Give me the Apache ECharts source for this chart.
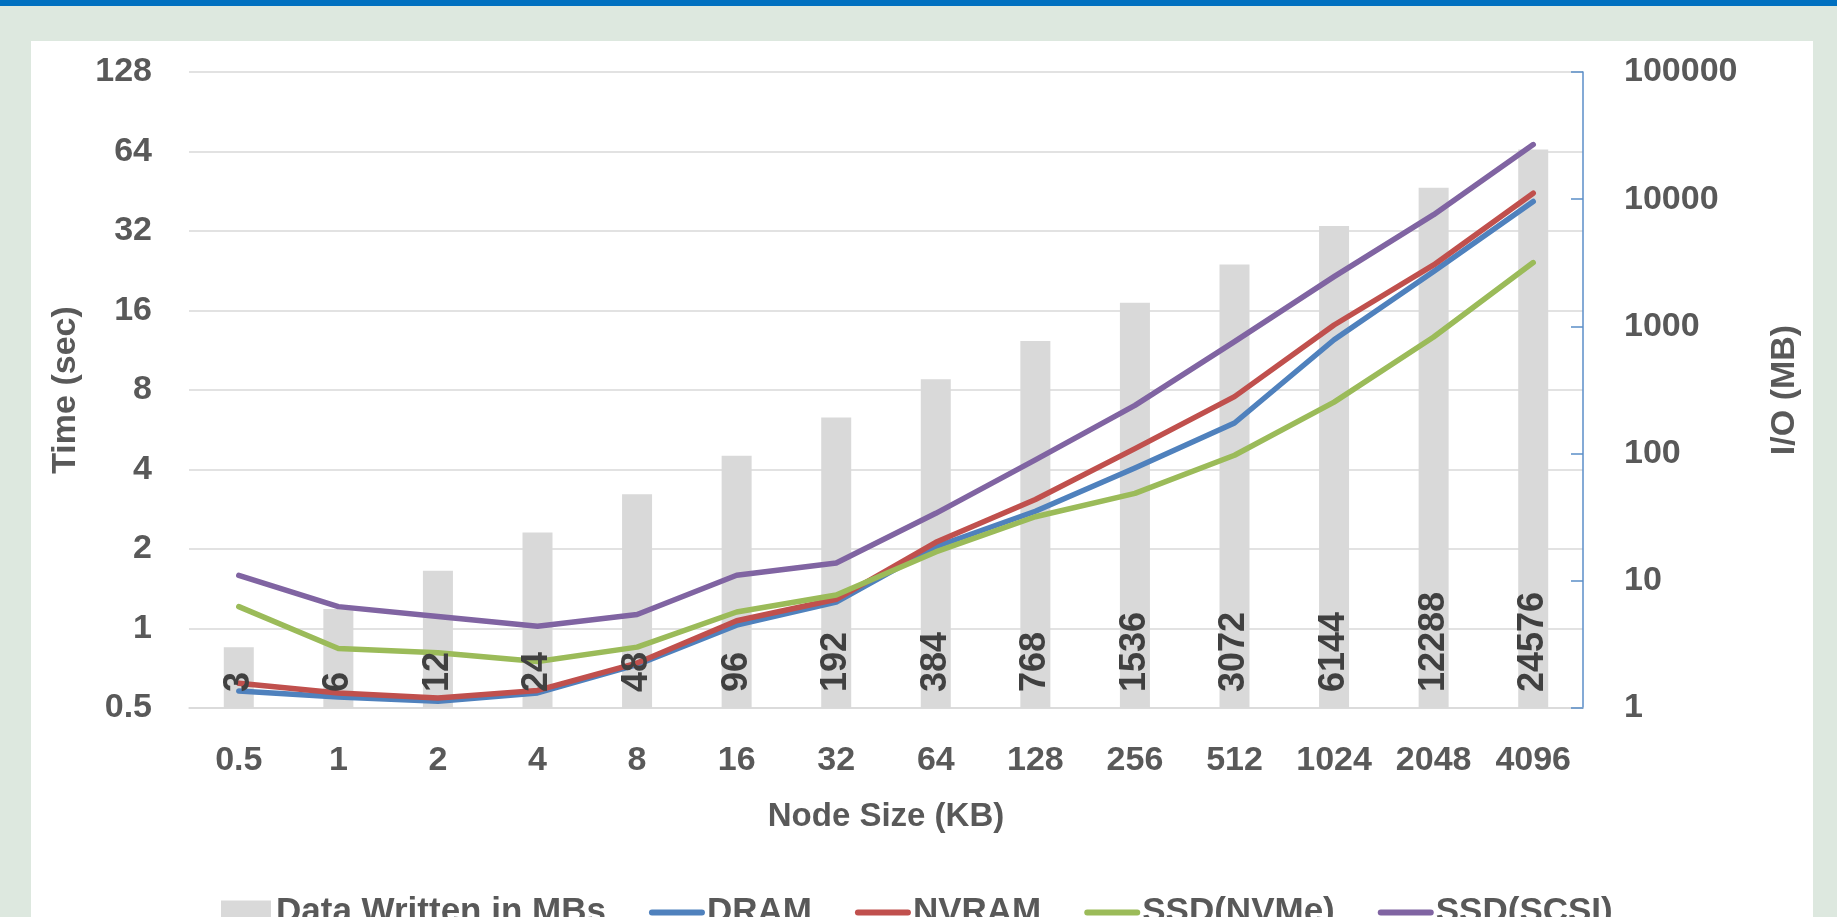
<!DOCTYPE html>
<html><head><meta charset="utf-8">
<script src="https://cdn.jsdelivr.net/npm/echarts@6/dist/echarts.min.js"></script>
<style>
html,body{margin:0;padding:0;width:1837px;height:917px;overflow:hidden;background:#dde8df;}
#band{position:absolute;left:0;top:0;width:1837px;height:6px;background:#0070c0;}
#panel{position:absolute;left:31px;top:41px;width:1782px;height:876px;background:#fff;}
#chart{position:absolute;left:0;top:0;width:1837px;height:917px;}
</style></head>
<body><div id="band"></div><div id="panel"></div><div id="chart"></div>
<script>
const categories = ['0.5','1','2','4','8','16','32','64','128','256','512','1024','2048','4096'];
const dataWrittenMB = [3,6,12,24,48,96,192,384,768,1536,3072,6144,12288,24576];
const dram  = [0.58,0.55,0.53,0.57,0.73,1.03,1.26,2.04,2.78,4.05,6.0,12.4,22.5,41.4];
const nvram = [0.62,0.57,0.545,0.583,0.74,1.07,1.29,2.12,3.08,4.8,7.55,14.1,23.8,44.5];
const ssdNvme = [1.21,0.84,0.81,0.75,0.85,1.155,1.34,1.95,2.65,3.25,4.53,7.2,12.7,24.3];
const ssdScsi = [1.59,1.21,1.11,1.02,1.13,1.59,1.77,2.73,4.35,7.0,12.2,21.5,36.9,68];

const FONT = '"Liberation Sans", Arial, sans-serif';
const TXT = '#595959';
const chart = echarts.init(document.getElementById('chart'), null, {renderer:'canvas'});
function lineSeries(name, data, color){
  return {name, type:'line', yAxisIndex:0, data, symbol:'none', showSymbol:false,
    lineStyle:{width:5.5, color, cap:'round', join:'round'}, itemStyle:{color}, z:3};
}
const lineLegend = n => ({name:n, itemStyle:{opacity:0}});
chart.setOption({
  backgroundColor:'transparent',
  animation:false,
  textStyle:{fontFamily:FONT},
  grid:{left:189, right:254, top:72, bottom:209, containLabel:false},
  legend:{
    left:216, top:890, itemGap:43, itemWidth:50, itemHeight:24,
    lineStyle:{width:6},
    textStyle:{fontSize:35, fontWeight:'bold', color:TXT, fontFamily:FONT},
    data:[{name:'Data Written in MBs', icon:'rect'}, lineLegend('DRAM'), lineLegend('NVRAM'),
          lineLegend('SSD(NVMe)'), lineLegend('SSD(SCSI)')]
  },
  xAxis:{
    type:'category', data:categories,
    name:'Node Size (KB)', nameLocation:'middle', nameGap:92,
    nameTextStyle:{fontSize:33, fontWeight:'bold', color:TXT, fontFamily:FONT},
    axisLine:{show:true, lineStyle:{color:'#d9d9d9', width:1.5}},
    axisTick:{show:false},
    axisLabel:{margin:36, fontSize:34, fontWeight:'bold', color:TXT, fontFamily:FONT, interval:0}
  },
  yAxis:[{
    type:'log', logBase:2, min:0.5, max:128, splitNumber:8,
    name:'Time (sec)', nameLocation:'middle', nameGap:106,
    nameTextStyle:{fontSize:34, fontWeight:'bold', color:TXT, fontFamily:FONT},
    axisLine:{show:false}, axisTick:{show:false},
    splitLine:{show:true, lineStyle:{color:'#d9d9d9', width:1.5}},
    axisLabel:{margin:37, fontSize:34, fontWeight:'bold', color:TXT, fontFamily:FONT,
      formatter:v=> v>=1 ? String(Math.round(v)) : String(Math.round(v*10)/10)}
  },{
    type:'log', logBase:10, min:1, max:100000, splitNumber:5, position:'right',
    name:'I/O (MB)', nameLocation:'middle', nameGap:185,
    nameTextStyle:{fontSize:34, fontWeight:'bold', color:TXT, fontFamily:FONT},
    axisLine:{show:true, lineStyle:{color:'#5b8ec8', width:1.5}},
    axisTick:{show:true, inside:true, length:12, lineStyle:{color:'#5b8ec8', width:1.5}},
    splitLine:{show:false},
    axisLabel:{margin:41, fontSize:34, fontWeight:'bold', color:TXT, fontFamily:FONT,
      formatter:v=> String(Math.round(v))}
  }],
  series:[
    {name:'Data Written in MBs', type:'bar', yAxisIndex:1, data:dataWrittenMB, barWidth:30, barGap:'-100%',
     itemStyle:{color:'#d9d9d9'}, z:2},
    lineSeries('DRAM', dram, '#4f81bd'),
    lineSeries('NVRAM', nvram, '#c0504d'),
    lineSeries('SSD(NVMe)', ssdNvme, '#9bbb59'),
    lineSeries('SSD(SCSI)', ssdScsi, '#8064a2'),
    {name:'labels', type:'bar', yAxisIndex:1, data:dataWrittenMB, barWidth:30, barGap:'-100%',
     itemStyle:{color:'rgba(0,0,0,0)'}, z:5, silent:true, tooltip:{show:false},
     label:{show:true, position:'insideBottom', distance:16, rotate:90, align:'left', verticalAlign:'middle',
       fontSize:36, fontWeight:'bold', color:'#404040', fontFamily:FONT}}
  ]
});
</script>
</body></html>
